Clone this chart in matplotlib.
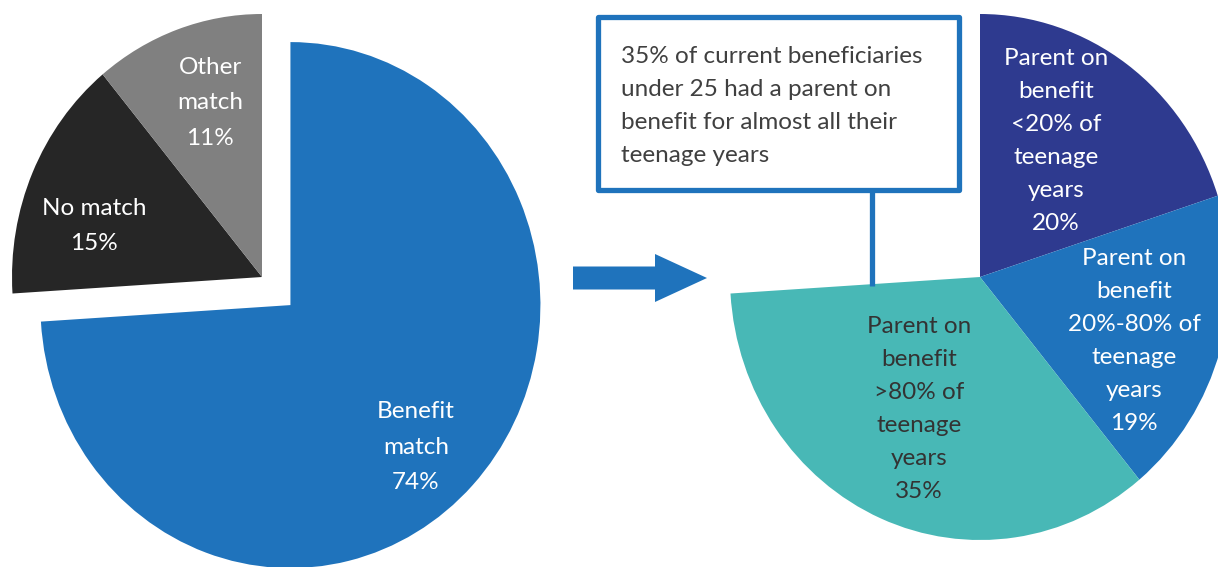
import matplotlib
matplotlib.use("Agg")
import matplotlib.pyplot as plt
from matplotlib.patches import Rectangle, FancyArrow

# data
left_labels = ["Benefit\nmatch", "No match", "Other\nmatch"]
left_values = [74, 15, 11]
left_colors = ["#1F73BC", "#262626", "#808080"]
left_text_colors = ["white", "white", "white"]

right_labels = ["Parent on\nbenefit\n<20% of\nteenage\nyears",
                "Parent on\nbenefit\n20%-80% of\nteenage\nyears",
                "Parent on\nbenefit\n>80% of\nteenage\nyears"]
right_values = [20, 19, 35]
right_colors = ["#2E3A8F", "#1F73BC", "#48B8B6"]
right_text_colors = ["white", "white", "#333333"]

callout = "35% of current beneficiaries\nunder 25 had a parent on\nbenefit for almost all their\nteenage years"

# layout in pixels (figure is 1218 x 567)
W, H = 1218, 567
SY = 1.052          # the reference pies are a bit taller than wide
R = 250


def P(px, py):
    return px, (H - py) / SY


left_label_pos = [(416, 447), (94, 226), (210, 103)]
right_label_pos = [(1056, 141), (1134, 341), (919, 409)]

plt.rcParams['font.family'] = ['Lato', 'DejaVu Sans']

fig = plt.figure(figsize=(W / 100, H / 100), dpi=100)
ax = fig.add_axes([0, 0, 1, 1])

# explode is in data units, push the benefit slice out ~39 px
ax.pie(left_values, colors=left_colors, startangle=90, counterclock=False,
       explode=[39, 0, 0], radius=R, center=P(262, 277),
       wedgeprops=dict(linewidth=0), frame=True)
ax.pie([v / 100 for v in right_values], colors=right_colors, startangle=90,
       counterclock=False, normalize=False, radius=R, center=P(980, 277),
       wedgeprops=dict(linewidth=0), frame=True)

fs = 17.5
for lab, v, pos, c in zip(left_labels, left_values, left_label_pos, left_text_colors):
    ax.text(*P(*pos), f"{lab}\n{v}%", ha="center", va="center", color=c,
            fontsize=fs, linespacing=1.83)
for lab, v, pos, c in zip(right_labels, right_values, right_label_pos, right_text_colors):
    ax.text(*P(*pos), f"{lab}\n{v}%", ha="center", va="center", color=c,
            fontsize=fs, linespacing=1.71)

# arrow between the pies
x0, y0 = P(573, 278)
ax.add_patch(FancyArrow(x0, y0, 707 - 573, 0, width=23 / SY, head_width=48 / SY,
                        head_length=52, length_includes_head=True,
                        color="#1F73BC", linewidth=0))

# callout box
bx, by = P(598, 190)
ax.add_patch(Rectangle((bx, by), 959 - 598, (190 - 17) / SY, facecolor="white",
                       edgecolor="#1F73BC", linewidth=3.8, joinstyle="round"))
ax.plot([P(872, 190)[0], P(872, 286)[0]], [P(872, 190)[1], P(872, 286)[1]],
        color="#1F73BC", linewidth=3.8, solid_capstyle="butt")
ax.text(*P(621, 106), callout, ha="left", va="center", color="#404040",
        fontsize=fs, linespacing=1.71)

ax.set_aspect("auto")
ax.set_xlim(0, W)
ax.set_ylim(0, H / SY)
ax.axis("off")

fig.savefig("out.png", dpi=100)
